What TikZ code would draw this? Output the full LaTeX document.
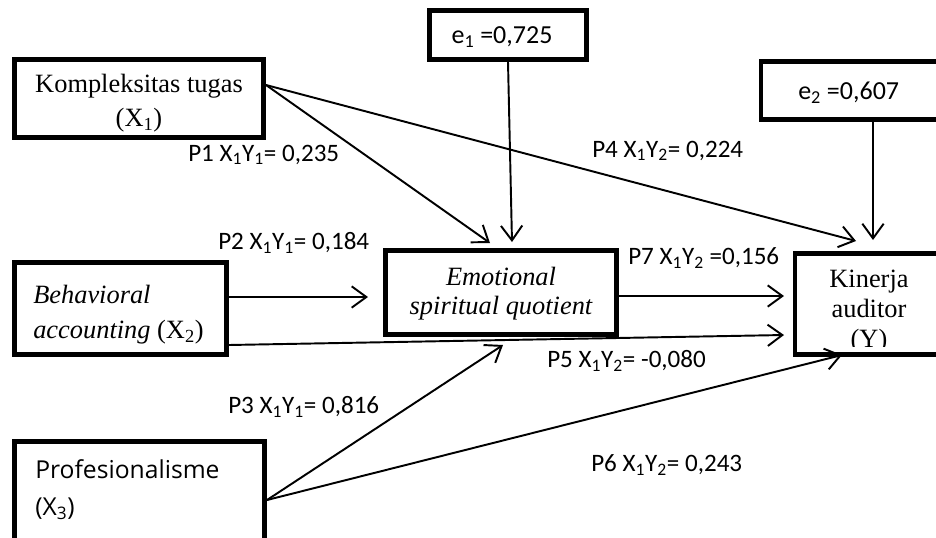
\documentclass[tikz,border=0pt]{standalone}
\usepackage{fontspec}
\setmainfont{Liberation Serif}
\newfontfamily\calfont{Carlito}
\newfontfamily\osfont{Open Sans}
\usetikzlibrary{arrows.meta}
\newcommand{\sbs}[1]{\textsubscript{#1}}
\begin{document}
\begin{tikzpicture}[x=0.75pt,y=-0.75pt,
  box/.style={draw, line width=3.4pt, inner sep=0pt},
  arr/.style={line width=1.45pt, -{Straight Barb[length=11pt,width=16pt,line width=1.45pt]}},
  coef/.style={font=\calfont\fontsize{18.8}{20}\selectfont, anchor=west, inner sep=0pt},
  serif/.style={inner sep=0pt, anchor=base},
  etext/.style={font=\calfont\fontsize{19.5}{20}\selectfont, inner sep=0pt}
]
\useasboundingbox (0,0) rectangle (936,537);
\clip (0,0) rectangle (936,537);

% boxes
\node[box, minimum width=249*0.75pt, minimum height=78*0.75pt] (X1) at (139,98.5) {};
\node[box, minimum width=157*0.75pt, minimum height=49*0.75pt] (E1) at (508,35) {};
\node[box, minimum width=189*0.75pt, minimum height=58*0.75pt] (E2) at (855.5,90.5) {};
\node[box, minimum width=212*0.75pt, minimum height=92*0.75pt] (X2) at (120.5,308.5) {};
\node[box, minimum width=231*0.75pt, minimum height=84*0.75pt] (ESQ) at (501,292.5) {};
\node[box, minimum width=153*0.75pt, minimum height=101*0.75pt] (Y) at (871.5,304) {};
\node[box, minimum width=250*0.75pt, minimum height=117*0.75pt] (X3) at (139.5,500) {};

% texts
\node[serif, align=center, font=\fontsize{19.8}{25}\selectfont] (X1t) at (139,126) {Kompleksitas tugas\\(X\textsubscript{1})};
\node[etext] (E1t) at (502,37) {e\sbs{1} =0,725};
\node[etext, anchor=west] (E2t) at (798,93) {e\sbs{2} =0,607};
\node[serif, align=left, anchor=base west, font=\fontsize{19.8}{26.25}\selectfont] (X2t) at (33,338) {\textit{Behavioral}\\\textit{accounting} (X\textsubscript{2})};
\node[serif, align=center, font=\itshape\fontsize{19.8}{21.5}\selectfont] (ESQt) at (501,314) {Emotional\\spiritual quotient};
\begin{scope}
\clip (793,251) rectangle (950,346);
\node[serif, align=center, font=\fontsize{19.8}{22.5}\selectfont] (Yt) at (869,347) {Kinerja\\auditor\\(Y)};
\end{scope}
\node[font=\osfont\fontsize{18.5}{27.75}\selectfont, align=left, anchor=base west, inner sep=0pt] (X3t) at (35,515) {Profesionalisme\\(X\sbs{3})};

% connectors
\coordinate (x1o) at (266,85);
\coordinate (x3o) at (267,500);
\draw[arr] (E1.south) -- (512,242);
\draw[arr] (x1o) -- (490,243);
\draw[arr] (x1o) -- (856,241);
\draw[arr] (E2.south -| 873,0) -- (873,240);
\draw[arr] (X2.east |- 0,297) -- (368,297);
\draw[arr] (ESQ.east |- 0,296) -- (784,296);
\draw[arr] (X2.east |- 0,345) -- (784,335);
\draw[arr] (x3o) -- (503,345);
\draw[arr] (x3o) -- (842,355);

% coefficients
\node[coef] (p1) at (188,155) {P1 X\sbs{1}Y\sbs{1}= 0,235};
\node[coef] (p4) at (592,151) {P4 X\sbs{1}Y\sbs{2}= 0,224};
\node[coef] (p2) at (218,243) {P2 X\sbs{1}Y\sbs{1}= 0,184};
\node[coef] (p7) at (628,258) {P7 X\sbs{1}Y\sbs{2} =0,156};
\node[coef] (p5) at (547,361) {P5 X\sbs{1}Y\sbs{2}= -0,080};
\node[coef] (p3) at (228,407) {P3 X\sbs{1}Y\sbs{1}= 0,816};
\node[coef] (p6) at (591,465) {P6 X\sbs{1}Y\sbs{2}= 0,243};
\end{tikzpicture}
\end{document}
